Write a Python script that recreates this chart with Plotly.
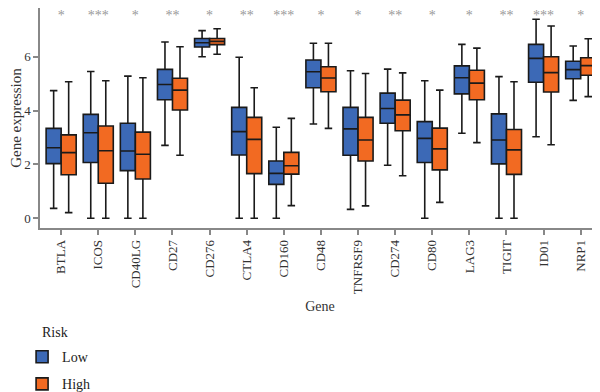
import plotly.graph_objects as go

genes = ["BTLA","ICOS","CD40LG","CD27","CD276","CTLA4","CD160","CD48","TNFRSF9",
         "CD274","CD80","LAG3","TIGIT","ID01","NRP1"]
stars = ["*","***","*","**","*","**","***","*","*","**","*","*","**","***","*"]

low_upper  = [4.74,5.45,5.28,6.55,6.97,5.98,3.38,6.50,5.48,5.54,5.11,6.46,5.26,7.39,6.40]
low_q3     = [3.34,3.86,3.53,5.53,6.68,4.12,2.13,5.88,4.12,4.65,3.59,5.66,3.88,6.46,5.83]
low_median = [2.62,3.18,2.50,4.97,6.52,3.22,1.67,5.44,3.32,4.08,2.97,5.22,2.91,5.94,5.52]
low_q1     = [2.03,2.07,1.77,4.40,6.36,2.35,1.26,4.85,2.34,3.53,2.07,4.62,2.02,5.05,5.18]
low_lower  = [0.37,0.00,0.00,2.71,6.00,0.00,0.00,3.50,0.33,1.97,0.00,3.16,0.00,3.03,4.38]

high_upper  = [5.07,5.11,5.22,6.37,7.04,4.85,3.71,6.50,5.38,5.40,4.76,6.32,5.07,7.14,6.67]
high_q3     = [3.10,3.43,3.20,5.20,6.68,3.75,2.45,5.63,3.75,4.39,3.35,5.50,3.30,6.00,5.96]
high_median = [2.44,2.51,2.38,4.76,6.57,2.93,1.95,5.21,2.91,3.84,2.58,5.02,2.54,5.41,5.67]
high_q1     = [1.62,1.30,1.46,4.02,6.45,1.66,1.64,4.70,2.13,3.25,1.80,4.40,1.63,4.69,5.31]
high_lower  = [0.21,0.00,0.00,2.34,6.09,0.00,0.47,3.34,0.46,1.58,0.59,2.81,0.00,2.73,4.52]

star_level = [7.5] * len(genes)

FONT = "Liberation Serif"
BLUE = "#3C69B6"
ORANGE = "#F26A22"
EDGE = "#1a1a1a"

fig = go.Figure()
fig.add_trace(go.Box(
    name="Low", x=genes, q1=low_q1, median=low_median, q3=low_q3,
    lowerfence=low_lower, upperfence=low_upper,
    fillcolor=BLUE, line=dict(color=EDGE, width=1.6),
    legendgroup="low", offsetgroup="low", boxpoints=False,
))
fig.add_trace(go.Box(
    name="High", x=genes, q1=high_q1, median=high_median, q3=high_q3,
    lowerfence=high_lower, upperfence=high_upper,
    fillcolor=ORANGE, line=dict(color=EDGE, width=1.6),
    legendgroup="high", offsetgroup="high", boxpoints=False,
))
fig.add_trace(go.Scatter(
    x=genes, y=star_level, text=stars, mode="text",
    textfont=dict(color="#999999", size=14, family=FONT),
    showlegend=False, cliponaxis=False, hoverinfo="skip",
))

fig.add_annotation(
    text="Risk", xref="paper", yref="paper", x=0.0, y=-0.477,
    xanchor="left", yanchor="middle", showarrow=False,
    font=dict(size=14, family=FONT, color="#222"),
)

fig.update_layout(
    width=592, height=384,
    margin=dict(l=32, r=0, t=0, b=164, autoexpand=False),
    paper_bgcolor="white", plot_bgcolor="white",
    boxmode="group", boxgap=0.19, boxgroupgap=0.0,
    font=dict(family=FONT, size=13, color="#333333"),
    showlegend=True,
    legend=dict(
        font=dict(size=14, family=FONT, color="#222"),
        x=-0.032, xanchor="left", y=-0.514, yanchor="top",
        orientation="v", tracegroupgap=6, bgcolor="rgba(0,0,0,0)",
    ),
    xaxis=dict(
        type="category", range=[-0.57, 14.52], automargin=False,
        showline=True, linecolor="#888888", linewidth=1.5,
        ticks="outside", ticklen=5, tickcolor="#888888", tickwidth=1.5,
        tickangle=-90, tickfont=dict(size=13, family=FONT, color="#333"),
        showgrid=False, zeroline=False,
        title=dict(text="Gene", font=dict(size=14, family=FONT, color="#333"), standoff=8),
    ),
    yaxis=dict(
        range=[-0.36, 7.81], automargin=False,
        tickvals=[0, 2, 4, 6],
        showline=True, linecolor="#888888", linewidth=1.5,
        ticks="outside", ticklen=5, tickcolor="#888888", tickwidth=1.5,
        tickfont=dict(size=13, family=FONT, color="#333"),
        showgrid=False, zeroline=False,
        title=dict(text="Gene expression", font=dict(size=15, family=FONT, color="#333"), standoff=6),
    ),
)

fig.write_html("out.html")
